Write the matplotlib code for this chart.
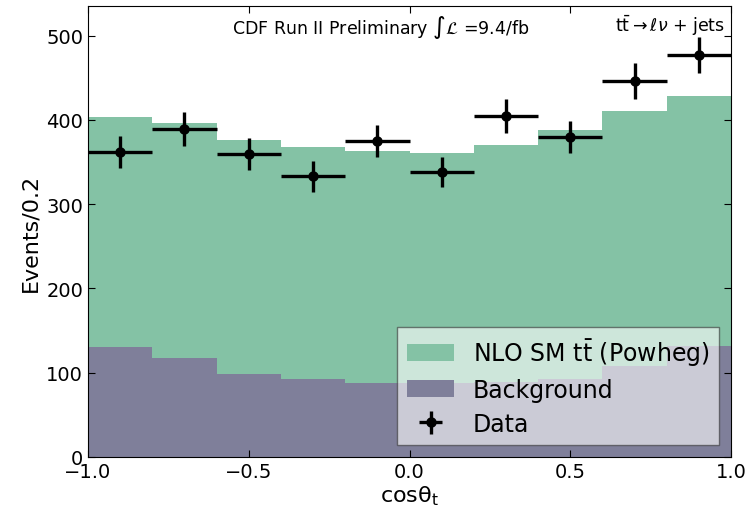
import numpy as np
import matplotlib
matplotlib.use("Agg")
import matplotlib.pyplot as plt

# binning in cos(theta_t)
bin_edges = [-1.0, -0.8, -0.6, -0.4, -0.2, 0.0, 0.2, 0.4, 0.6, 0.8, 1.0]
# stacked predictions (events / 0.2)
background = [131, 117, 98, 92, 88, 88, 89, 92, 108, 132]
ttbar_nlo = [272, 279, 278, 276, 275, 273, 281, 296, 303, 296]
# data
data_y = [362, 389, 359, 333, 375, 338, 405, 380, 446, 477]
data_err = [19, 20, 19, 18, 19, 18, 20, 19, 21, 21]

edges = np.array(bin_edges)
centers = 0.5 * (edges[1:] + edges[:-1])
widths = np.diff(edges)

fig = plt.figure(figsize=(7.49, 5.10), dpi=100)
ax = fig.add_axes([0.1175, 0.102, 0.8585, 0.884])

ax.bar(centers, background, width=widths, color='#7f7f9a', linewidth=0,
       label='Background')
ax.bar(centers, ttbar_nlo, width=widths, bottom=background, color='#84c2a5',
       linewidth=0, label=r'NLO SM t$\bar{\mathrm{t}}$ (Powheg)')
ax.errorbar(centers, data_y, xerr=widths / 2, yerr=data_err, fmt='o',
            color='black', markersize=6.5, elinewidth=2.4, capsize=0,
            label='Data')

ax.set_xlim(-1.0, 1.0)
ax.set_ylim(0, 535)
ax.set_xticks([-1.0, -0.5, 0.0, 0.5, 1.0])
ax.set_yticks([0, 100, 200, 300, 400, 500])
ax.tick_params(direction='in', top=True, right=True, labelsize=14, length=5)
ax.set_xlabel(r'cos$\mathrm{\theta_t}$', fontsize=16, labelpad=2)
ax.set_ylabel('Events/0.2', fontsize=16)

ax.text(0.455, 0.985, r'CDF Run II Preliminary $\int\mathcal{L}$ =9.4/fb',
        transform=ax.transAxes, ha='center', va='top', fontsize=12.5)
ax.text(0.99, 0.985, r't$\bar{\mathrm{t}}$$\rightarrow\ell\nu$ + jets',
        transform=ax.transAxes, ha='right', va='top', fontsize=12.5)

handles, labels = ax.get_legend_handles_labels()
order = [1, 0, 2]
leg = ax.legend([handles[i] for i in order], [labels[i] for i in order],
                loc='lower right', fontsize=17, framealpha=0.6,
                fancybox=False, edgecolor='#333333', borderaxespad=0.5,
                labelspacing=0.42)

fig.savefig('out.png', dpi=100)
